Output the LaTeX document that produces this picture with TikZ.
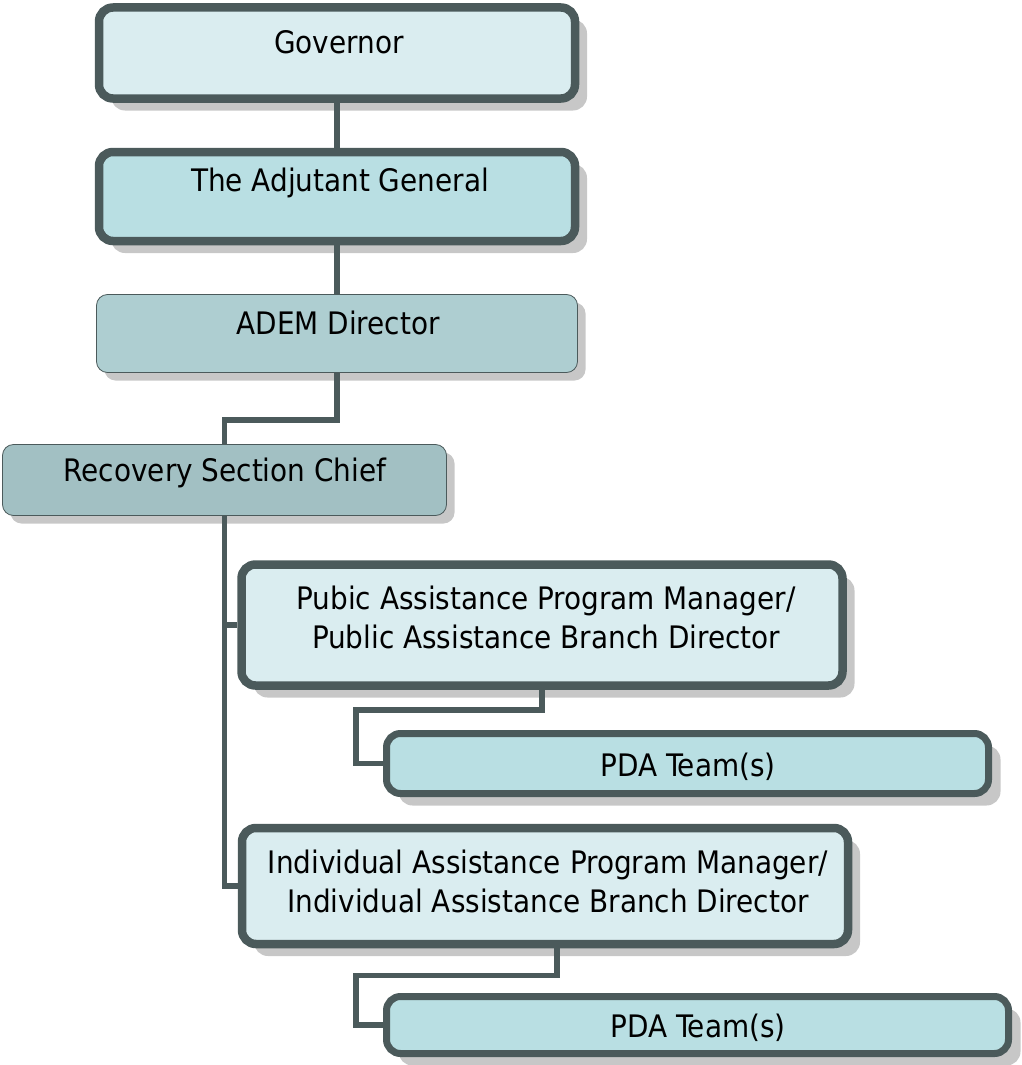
\documentclass[tikz,border=0pt]{standalone}
\usepackage{fontspec}
\setmainfont{DejaVu Sans Condensed}
\usetikzlibrary{positioning}
\usetikzlibrary{shadows}
\usetikzlibrary{calc}

\definecolor{edge}{HTML}{4B5A5B}
\definecolor{palefill}{HTML}{DAEDF0}
\definecolor{tealfill}{HTML}{B9DFE3}
\definecolor{ademfill}{HTML}{AECED1}
\definecolor{recfill}{HTML}{A2C0C3}

\begin{document}
\begin{tikzpicture}[x=1pt, y=-1pt,
    thickbox/.style={draw=edge, line width=8.5pt, rounded corners=14pt, inner sep=0pt,
        drop shadow={shadow xshift=12pt, shadow yshift=-12pt, fill=black!22, opacity=1}},
    thinbox/.style={draw=edge, line width=0.8pt, rounded corners=11pt, inner sep=0pt,
        drop shadow={shadow xshift=8pt, shadow yshift=-8pt, fill=black!22, opacity=1}},
    txt/.style={font=\fontsize{31}{39}\selectfont, align=center, inner sep=0pt},
    link/.style={draw=edge, line width=5.5pt}
]
\useasboundingbox (0,0) rectangle (1021,1065);

% Boxes
\node[thickbox, fill=palefill, minimum width=476pt, minimum height=91pt] (gov) at (337,53) {};
\node[thickbox, fill=tealfill, minimum width=476pt, minimum height=89pt] (adj) at (337,196.5) {};
\node[thinbox, fill=ademfill, minimum width=481pt, minimum height=78pt] (adem) at (337,333.5) {};
\node[thinbox, fill=recfill, minimum width=444pt, minimum height=71pt] (rec) at (224.5,480) {};
\node[thickbox, fill=palefill, minimum width=601pt, minimum height=121pt] (pub) at (542,625) {};
\node[thickbox, line width=7pt, fill=tealfill, minimum width=602pt, minimum height=60pt] (pda1) at (687.5,763.5) {};
\node[thickbox, fill=palefill, minimum width=606pt, minimum height=116pt] (ind) at (545,886) {};
\node[thickbox, line width=7pt, fill=tealfill, minimum width=622pt, minimum height=57pt] (pda2) at (697.5,1025) {};

% Texts
\node[txt] (govtxt) at (339,42) {Governor};
\node[txt] (adjtxt) at (340,183) {The Adjutant General};
\node[txt] (ademtxt) at (338,323) {ADEM Director};
\node[txt] (rectxt) at (225,473) {Recovery Section Chief};
\node[txt] (pubtxt) at (546,617) {Pubic Assistance Program Manager/\\Public Assistance Branch Director};
\node[txt] (pda1txt) at (688,767) {PDA Team(s)};
\node[txt] (indtxt) at (548,881) {Individual Assistance Program Manager/\\Individual Assistance Branch Director};
\node[txt] (pda2txt) at (698,1028) {PDA Team(s)};

% Connectors
\draw[link] (gov.south) -- (adj.north);
\draw[link] (adj.south) -- (adem.north);
\draw[link] (adem.south) -- ++(0,47) -| (rec.north);
\coordinate (trunk) at (rec.south);
\draw[link] (trunk) |- (pub.west);
\draw[link] (trunk) |- (ind.west);
\draw[link] (pub.south) -- ++(0,20) -| ($(pda1.west)+(-27,0)$) -- (pda1.west);
\draw[link] ([xshift=12pt]ind.south) -- ++(0,27) -| ($(pda2.west)+(-27,0)$) -- (pda2.west);
\end{tikzpicture}
\end{document}
